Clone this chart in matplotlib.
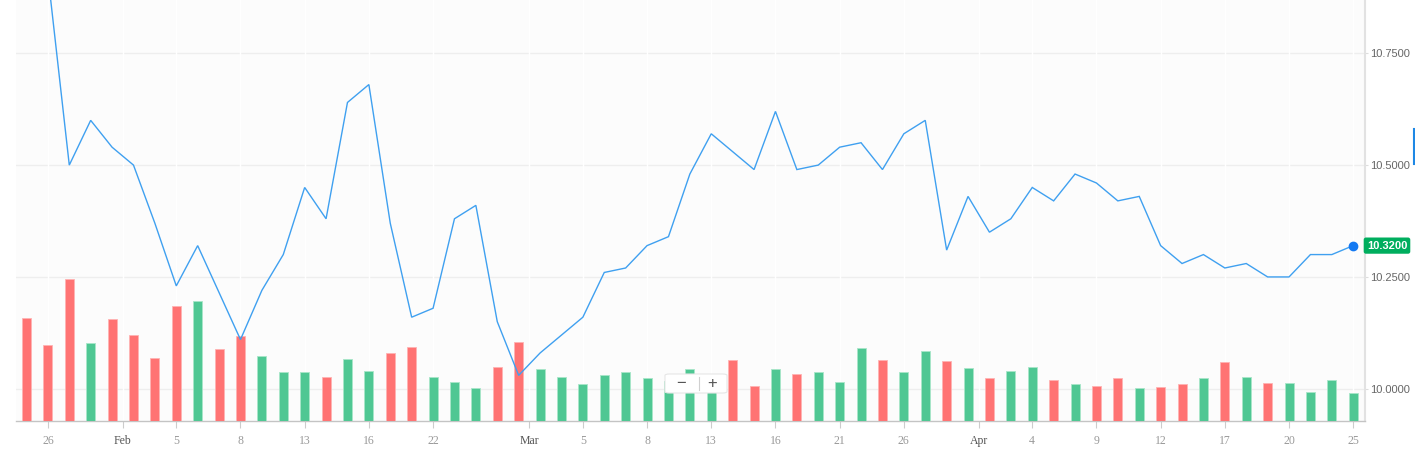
import numpy as np
import matplotlib
matplotlib.use("Agg")
import matplotlib.pyplot as plt
from matplotlib.transforms import blended_transform_factory
from matplotlib.patches import FancyBboxPatch
from matplotlib.lines import Line2D

plt.rcParams['font.family'] = ['Liberation Sans', 'DejaVu Sans']

# ---------------- data ----------------
dates = ["2018-01-25", "2018-01-26", "2018-01-29", "2018-01-30", "2018-01-31",
         "2018-02-01", "2018-02-02", "2018-02-05", "2018-02-06", "2018-02-07",
         "2018-02-08", "2018-02-09", "2018-02-12", "2018-02-13", "2018-02-14",
         "2018-02-15", "2018-02-16", "2018-02-20", "2018-02-21", "2018-02-22",
         "2018-02-23", "2018-02-26", "2018-02-27", "2018-02-28", "2018-03-01",
         "2018-03-02", "2018-03-05", "2018-03-06", "2018-03-07", "2018-03-08",
         "2018-03-09", "2018-03-12", "2018-03-13", "2018-03-14", "2018-03-15",
         "2018-03-16", "2018-03-19", "2018-03-20", "2018-03-21", "2018-03-22",
         "2018-03-23", "2018-03-26", "2018-03-27", "2018-03-28", "2018-03-29",
         "2018-04-02", "2018-04-03", "2018-04-04", "2018-04-05", "2018-04-06",
         "2018-04-09", "2018-04-10", "2018-04-11", "2018-04-12", "2018-04-13",
         "2018-04-16", "2018-04-17", "2018-04-18", "2018-04-19", "2018-04-20",
         "2018-04-23", "2018-04-24", "2018-04-25"]

price = [10.95, 10.925, 10.50, 10.60, 10.54, 10.50, 10.37, 10.23, 10.32, 10.215,
         10.11, 10.22, 10.30, 10.45, 10.38, 10.64, 10.68, 10.37, 10.16, 10.18,
         10.38, 10.41, 10.15, 10.03, 10.08, 10.12, 10.16, 10.26, 10.27, 10.32,
         10.34, 10.48, 10.57, 10.53, 10.49, 10.62, 10.49, 10.50, 10.54, 10.55,
         10.49, 10.57, 10.60, 10.31, 10.43, 10.35, 10.38, 10.45, 10.42, 10.48,
         10.46, 10.42, 10.43, 10.32, 10.28, 10.30, 10.27, 10.28, 10.25, 10.25,
         10.30, 10.30, 10.32]

volume = [103, 76, 142, 78, 102, 86, 63, 115, 120, 72, 85, 65, 49, 49, 44, 62, 50,
          68, 74, 44, 39, 33, 54, 79, 52, 44, 37, 46, 49, 43, 40, 52, 40, 61, 35,
          52, 47, 49, 39, 73, 61, 49, 70, 60, 53, 43, 50, 54, 41, 37, 35, 43, 33,
          34, 37, 43, 59, 44, 38, 38, 29, 41, 28]

direction = ["d", "d", "d", "u", "d", "d", "d", "d", "u", "d", "d", "u", "u", "u",
             "d", "u", "u", "d", "d", "u", "u", "u", "d", "d", "u", "u", "u", "u",
             "u", "u", "u", "u", "u", "d", "d", "u", "d", "u", "u", "u", "d", "u",
             "u", "d", "u", "d", "u", "u", "d", "u", "d", "d", "u", "d", "d", "u",
             "d", "u", "d", "u", "u", "u", "u"]

tick_dates = ["2018-01-26", "2018-02", "2018-02-05", "2018-02-08", "2018-02-13",
              "2018-02-16", "2018-02-22", "2018-03", "2018-03-05", "2018-03-08",
              "2018-03-13", "2018-03-16", "2018-03-21", "2018-03-26", "2018-04",
              "2018-04-04", "2018-04-09", "2018-04-12", "2018-04-17", "2018-04-20",
              "2018-04-25"]
tick_labels = ["26", "Feb", "5", "8", "13", "16", "22", "Mar", "5", "8", "13", "16",
               "21", "26", "Apr", "4", "9", "12", "17", "20", "25"]

price_ticks = [10.0, 10.25, 10.5, 10.75]

# ---------------- styling ----------------
W, H = 1415, 450
UP = "#4FC793"
DOWN = "#FF7373"
LINE = "#3FA0F0"

fig = plt.figure(figsize=(W / 100, H / 100), dpi=100)
fig.patch.set_facecolor("white")
L, R, B, T = 16 / W, 1365 / W, 29 / H, 1.0
pos = [L, B, R - L, T - B]

x = np.arange(len(dates))

# tick positions (month labels sit between months)
tick_pos = []
for td in tick_dates:
    if len(td) == 7:
        first = next(i for i, d in enumerate(dates) if d.startswith(td))
        tick_pos.append(first - 0.5)
    else:
        tick_pos.append(dates.index(td))

# base axes: background, grid, price axis on the right
ax = fig.add_axes(pos, zorder=1)
axv = ax.twinx()
axv.set_zorder(2)
axv.patch.set_visible(False)

ax.set_facecolor("#FCFCFC")
ax.set_xlim(-0.49, 62.55)
ax.set_ylim(9.928, 10.869)
for lvl in price_ticks:
    ax.axhline(lvl, color="#EEEEEE", lw=1.0, zorder=0)
for tp in tick_pos:
    ax.axvline(tp, color="#FFFFFF", lw=1.0, zorder=0)
ax.yaxis.tick_right()
ax.yaxis.set_label_position("right")
ax.set_yticks(price_ticks)
ax.set_yticklabels([f"{v:.4f}" for v in price_ticks])
ax.tick_params(axis="y", which="both", left=False, labelleft=False, right=True,
               labelright=True, length=2.5, color="#DDDDDD", labelsize=8,
               labelcolor="#666666", pad=1.5)
ax.set_xticks(tick_pos)
ax.set_xticklabels(tick_labels, family=["Liberation Serif", "DejaVu Serif"],
                   fontsize=8.5)
for lab, txt in zip(ax.get_xticklabels(), tick_labels):
    lab.set_color("#555555" if txt.isalpha() else "#999999")
ax.tick_params(axis="x", length=5, color="#CCCCCC", pad=5)
ax.spines["top"].set_visible(False)
ax.spines["left"].set_visible(False)
ax.spines["right"].set_color("#E2E2E2")
ax.spines["right"].set_linewidth(1.5)
ax.spines["bottom"].set_color("#C4C4C4")
ax.spines["bottom"].set_linewidth(1.0)

axv.set_ylim(0, 421)
cols = [UP if d == "u" else DOWN for d in direction]
edge = ["#A8E6C9" if d == "u" else "#FFB3B3" for d in direction]
axv.bar(x, volume, width=0.42, color=cols, edgecolor=edge, linewidth=0.6)
axv.tick_params(axis="y", which="both", left=False, right=False,
                labelleft=False, labelright=False)
for s in axv.spines.values():
    s.set_visible(False)

# price line axes on top
axl = fig.add_axes(pos, sharex=ax, sharey=ax, zorder=3)
axl.patch.set_visible(False)
axl.axis("off")
axl.plot(x, price, color=LINE, lw=1.0, solid_joinstyle="miter")
axl.plot([x[-1]], [price[-1]], "o", color="#1479F2", markersize=6, clip_on=False)
tr = blended_transform_factory(axl.transAxes, axl.transData)
axl.text(1.0163, price[-1], f"{price[-1]:.4f}", transform=tr, ha="center",
         va="center", color="white", fontsize=8, fontweight="bold",
         bbox=dict(boxstyle="round,pad=0.28,rounding_size=0.2", fc="#00AE5E",
                   ec="none"), clip_on=False)

# zoom control widget
def fx(px):
    return px / W

def fy(py):
    return 1 - py / H

box = FancyBboxPatch((fx(665), fy(393)), fx(727) - fx(665), fy(374) - fy(393),
                     boxstyle="round,pad=0,rounding_size=0.003",
                     transform=fig.transFigure, fc="white", ec="#E6E6E6",
                     lw=0.8, zorder=10)
fig.add_artist(box)
fig.add_artist(Line2D([fx(698.5)] * 2, [fy(377), fy(390)], color="#D0D0D0",
                      lw=0.8, transform=fig.transFigure, zorder=11))
fig.text(fx(681), fy(383.5), "\u2212", ha="center", va="center", fontsize=12,
         color="#555555", zorder=11)
fig.text(fx(712), fy(383.5), "+", ha="center", va="center", fontsize=12,
         color="#555555", zorder=11)

# partial blue marker at right edge
fig.add_artist(Line2D([fx(1413.8)] * 2, [fy(129), fy(164)], color="#1E88E5",
                      lw=1.5, transform=fig.transFigure))

fig.savefig("out.png", dpi=100, facecolor="white")
